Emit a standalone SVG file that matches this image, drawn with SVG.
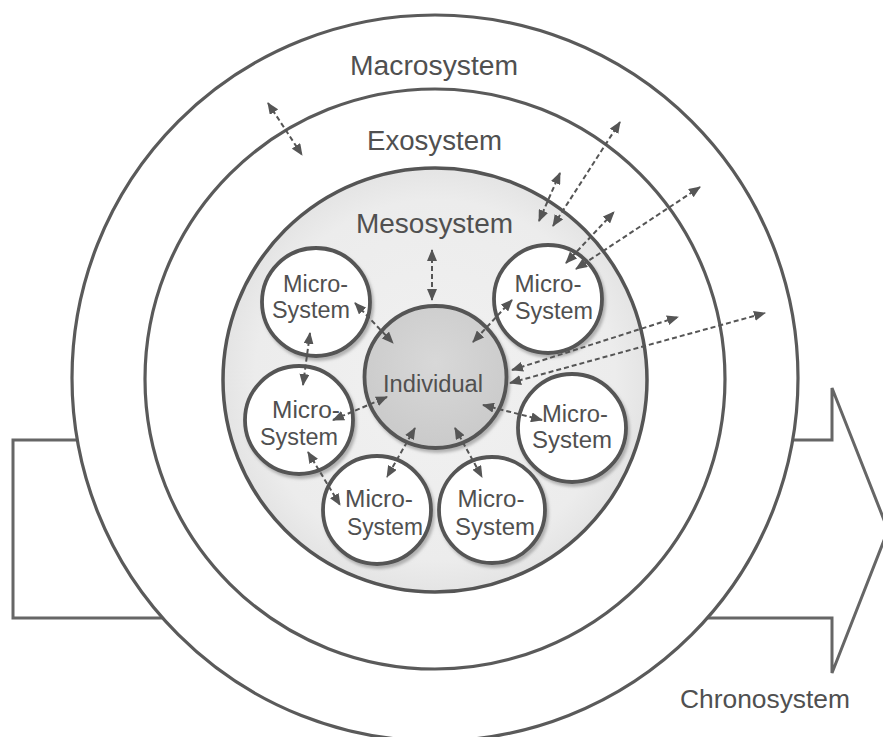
<svg xmlns="http://www.w3.org/2000/svg" width="883" height="737" viewBox="0 0 883 737">
<style>
.ring{fill:#fff;stroke:#5a5a5a;stroke-width:3.2}
.micro{fill:#fff;stroke:#555;stroke-width:3.8;filter:url(#sh)}
.lbl{font-family:"Liberation Sans",Arial,sans-serif;fill:#505050;text-anchor:middle}
.big{font-size:27px}
.mic{font-size:23.5px}
.con{fill:none;stroke:#555;stroke-width:2;stroke-dasharray:5 3;marker-start:url(#ah);marker-end:url(#ah)}
</style>
<defs>
<marker id="ah" viewBox="0 0 12 10" refX="11" refY="5" markerWidth="12" markerHeight="10" markerUnits="userSpaceOnUse" orient="auto-start-reverse">
<path d="M0,0 L12,5 L0,10 z" fill="#555"/>
</marker>
<radialGradient id="mesoG" cx="0.5" cy="0.5" r="0.5">
<stop offset="0" stop-color="#f1f1f1"/>
<stop offset="0.85" stop-color="#ececec"/>
<stop offset="1" stop-color="#e4e4e4"/>
</radialGradient>
<radialGradient id="indG" cx="0.5" cy="0.4" r="0.6">
<stop offset="0" stop-color="#d8d8d8"/>
<stop offset="1" stop-color="#cacaca"/>
</radialGradient>
<filter id="sh" x="-20%" y="-20%" width="150%" height="150%">
<feDropShadow dx="2" dy="3" stdDeviation="1.8" flood-color="#888" flood-opacity="0.6"/>
</filter>
</defs>

<g id="chronosystem">
<polygon points="13,440 832,440 832,388 888,530 832,673 832,618 13,618" fill="#fff" stroke="#666" stroke-width="3"/>
<text class="lbl" x="765" y="708" font-size="26" textLength="170" lengthAdjust="spacingAndGlyphs">Chronosystem</text>
</g>

<g id="macrosystem">
<circle class="ring" cx="435" cy="378" r="363"/>
<text class="lbl big" x="434" y="75" textLength="168" lengthAdjust="spacingAndGlyphs">Macrosystem</text>
</g>

<g id="exosystem">
<circle class="ring" cx="435" cy="379" r="290"/>
<text class="lbl big" x="434.5" y="150" textLength="135" lengthAdjust="spacingAndGlyphs">Exosystem</text>
</g>

<g id="mesosystem">
<circle cx="435" cy="380" r="212" fill="url(#mesoG)" stroke="#555" stroke-width="3.5"/>
<text class="lbl big" x="434.5" y="233" textLength="157" lengthAdjust="spacingAndGlyphs">Mesosystem</text>
</g>

<g id="micro1">
<circle class="micro" cx="316" cy="302" r="54"/>
<text class="lbl mic" x="315.5" y="292" textLength="65" lengthAdjust="spacingAndGlyphs">Micro-</text>
<text class="lbl mic" x="311" y="318" textLength="78" lengthAdjust="spacingAndGlyphs">System</text>
</g>
<g id="micro2">
<circle class="micro" cx="548" cy="299" r="54"/>
<text class="lbl mic" x="548" y="292" textLength="67" lengthAdjust="spacingAndGlyphs">Micro-</text>
<text class="lbl mic" x="554" y="319" textLength="78" lengthAdjust="spacingAndGlyphs">System</text>
</g>
<g id="micro3">
<circle class="micro" cx="299" cy="420" r="54"/>
<text class="lbl mic" x="306" y="418" textLength="68" lengthAdjust="spacingAndGlyphs">Micro-</text>
<text class="lbl mic" x="299" y="445" textLength="78" lengthAdjust="spacingAndGlyphs">System</text>
</g>
<g id="micro4">
<circle class="micro" cx="572" cy="428" r="54"/>
<text class="lbl mic" x="575" y="422" textLength="66" lengthAdjust="spacingAndGlyphs">Micro-</text>
<text class="lbl mic" x="572" y="448" textLength="80" lengthAdjust="spacingAndGlyphs">System</text>
</g>
<g id="micro5">
<circle class="micro" cx="377" cy="510" r="54"/>
<text class="lbl mic" x="379" y="507" textLength="68" lengthAdjust="spacingAndGlyphs">Micro-</text>
<text class="lbl mic" x="385" y="535" textLength="76" lengthAdjust="spacingAndGlyphs">System</text>
</g>
<g id="micro6">
<circle class="micro" cx="492" cy="510" r="53"/>
<text class="lbl mic" x="491" y="507" textLength="67" lengthAdjust="spacingAndGlyphs">Micro-</text>
<text class="lbl mic" x="495" y="535" textLength="80" lengthAdjust="spacingAndGlyphs">System</text>
</g>

<g id="individual">
<circle cx="435.5" cy="377" r="71" fill="url(#indG)" stroke="#555" stroke-width="3.8" filter="url(#sh)"/>
<text class="lbl" x="433" y="392" font-size="23.5" textLength="100" lengthAdjust="spacingAndGlyphs">Individual</text>
</g>

<g id="connectors">
<line class="con" x1="268" y1="103" x2="302" y2="155"/>
<line class="con" x1="432" y1="250" x2="432" y2="300"/>
<line class="con" x1="355" y1="303" x2="393" y2="343"/>
<line class="con" x1="512" y1="300" x2="473" y2="342"/>
<line class="con" x1="310" y1="333" x2="303" y2="385"/>
<line class="con" x1="333" y1="420" x2="387" y2="397"/>
<line class="con" x1="308" y1="452" x2="340" y2="505"/>
<line class="con" x1="415" y1="428" x2="387" y2="477"/>
<line class="con" x1="455" y1="428" x2="482" y2="477"/>
<line class="con" x1="483" y1="405" x2="542" y2="420"/>
<line class="con" x1="512" y1="370" x2="678" y2="317"/>
<line class="con" x1="510" y1="383" x2="765" y2="313"/>
<line class="con" x1="539" y1="221" x2="560" y2="173"/>
<line class="con" x1="553" y1="226" x2="620" y2="122"/>
<line class="con" x1="566" y1="263" x2="614" y2="212"/>
<line class="con" x1="576" y1="269" x2="700" y2="187"/>
</g>
</svg>
